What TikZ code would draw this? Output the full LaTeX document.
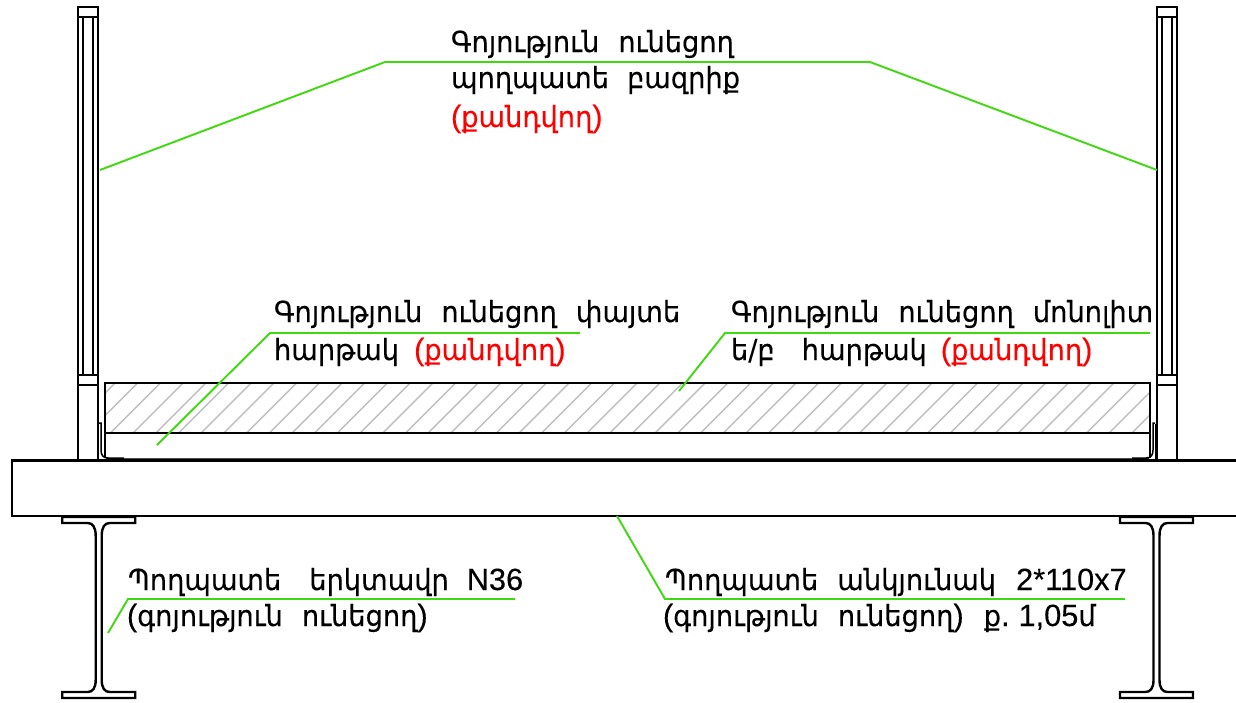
\documentclass[tikz,border=0pt]{standalone}
\usepackage{fontspec}
\setmainfont[Scale=1.06,FakeBold=0.2]{Liberation Sans}
\newfontfamily\armf[FakeStretch=0.94,WordSpace=2.2,FakeBold=0.2]{DejaVu Sans}
\newcommand{\arm}[1]{{\armf #1}}
\newcommand{\gap}[1]{\hspace{#1pt}}
\definecolor{leader}{RGB}{64,216,16}
\definecolor{hatchc}{RGB}{190,190,190}
\tikzset{
  lbl/.style={anchor=base west,inner sep=0pt,outer sep=0pt,font=\fontsize{29}{32}\selectfont},
  part/.style={draw=black,line width=2.4pt,line join=miter},
  hatchline/.style={draw=hatchc,line width=1.4pt},
  leaderline/.style={draw=leader,line width=1.9pt}
}
\newcommand{\rail}[1]{%
  \begin{scope}[xshift=#1]
    \draw[part] (0,460.5) -- (0,7) -- (20,7) -- (20,460.5);
    \draw[part] (0,17) -- (20,17);
    \draw[part] (5,17) -- (5,375);
    \draw[part] (15,17) -- (15,375);
    \draw[part] (0,375) -- (20,375);
    \draw[part] (0,385) -- (20,385);
  \end{scope}}
\newcommand{\ibeam}[1]{%
  \begin{scope}[xshift=#1]
    \draw[part] (-3,536) .. controls (-3,527) and (-6,523) .. (-11,523) -- (-36.5,523) -- (-36.5,517) -- (36.5,517) -- (36.5,523) -- (11,523) .. controls (6,523) and (3,527) .. (3,536) -- (3,680) .. controls (3,688) and (6,692) .. (11,692) -- (36.5,692) -- (36.5,698) -- (-36.5,698) -- (-36.5,692) -- (-11,692) .. controls (-6,692) and (-3,688) .. (-3,680) -- cycle;
  \end{scope}}
\begin{document}
\begin{tikzpicture}[x=1pt,y=-1pt]
\useasboundingbox (0,0) rectangle (1236,702);
\fill[white] (0,0) rectangle (1236,702);
% hatch
\begin{scope}
  \clip (105,383) rectangle (1150,433);
  \foreach \i in {0,...,48} {
    \draw[hatchline] ({65+\i*22.7},433) -- ++(50,-50);
  }
\end{scope}
% slab and plate
\draw[part] (105,458) -- (105,383) -- (1150,383) -- (1150,458);
\draw[part] (105,433) -- (1150,433);
\draw[draw=black!70,line width=1.6pt] (106,458.5) -- (1149,458.5);
% rails
\rail{78}
\rail{1157}
% angle pieces
\draw[part,line width=1.5pt] (99,423) -- (101,423) -- (101,450) .. controls (101,455) and (103,458) .. (108,458) -- (124,458);
\draw[part,line width=1.5pt] (1155,423) -- (1153,423) -- (1153,450) .. controls (1153,455) and (1151,458) .. (1146,458) -- (1132,458);
\draw[part,line width=1.5pt] (1155.5,424) -- (1155.5,460);
% main beam
\draw[part] (1236,460.5) -- (12,460.5) -- (12,516) -- (1236,516);
% I-beams
\ibeam{98.7}
\ibeam{1156.5}
% leader points
\coordinate (t1) at (100,170);
\coordinate (t2) at (385,62);
\coordinate (t3) at (870,62);
\coordinate (t4) at (1157,170);
\coordinate (a1) at (157,445);
\coordinate (a2) at (270,333);
\coordinate (a3) at (580,333);
\coordinate (b1) at (679,391);
\coordinate (b2) at (725,333);
\coordinate (b3) at (1150,333);
\coordinate (c1) at (108,633);
\coordinate (c2) at (128,599);
\coordinate (c3) at (515,599);
\coordinate (d1) at (617,516);
\coordinate (d2) at (665,599);
\coordinate (d3) at (1125,599);
\draw[leaderline] (t1) -- (t2) -- (t3) -- (t4);
\draw[leaderline] (a1) -- (a2) -- (a3);
\draw[leaderline] (b1) -- (b2) -- (b3);
\draw[leaderline] (c1) -- (c2) -- (c3);
\draw[leaderline] (d1) -- (d2) -- (d3);
% labels
\node[lbl] (l1) at (451,52) {\arm{Գոյություն ունեցող}};
\node[lbl] (l2) at (451,88) {\arm{պողպատե}\gap{18}\arm{բազրիք}};
\node[lbl,text=red] (l3) at (451,127) {(\arm{քանդվող})};
\node[lbl] (l4) at (274,322) {\arm{Գոյություն ունեցող փայտե}};
\node[lbl] (l5) at (274,360) {\arm{հարթակ}\gap{15}\textcolor{red}{(\arm{քանդվող})}};
\node[lbl] (l6) at (731,322) {\arm{Գոյություն ունեցող մոնոլիտ}};
\node[lbl] (l7) at (731,360) {\arm{ե/բ}\gap{27}\arm{հարթակ}\gap{14}\textcolor{red}{(\arm{քանդվող})}};
\node[lbl] (l8) at (128,590) {\arm{Պողպատե}\gap{28}\arm{երկտավր}\gap{18}N36};
\node[lbl] (l9) at (127,626) {(\arm{գոյություն ունեցող})};
\node[lbl] (l10) at (665,590) {\arm{Պողպատե անկյունակ}\gap{20}2*110x7};
\node[lbl] (l11) at (663,626) {(\arm{գոյություն ունեցող})\gap{20}\arm{ք}.\gap{9}1,05\arm{մ}};
\end{tikzpicture}
\end{document}
